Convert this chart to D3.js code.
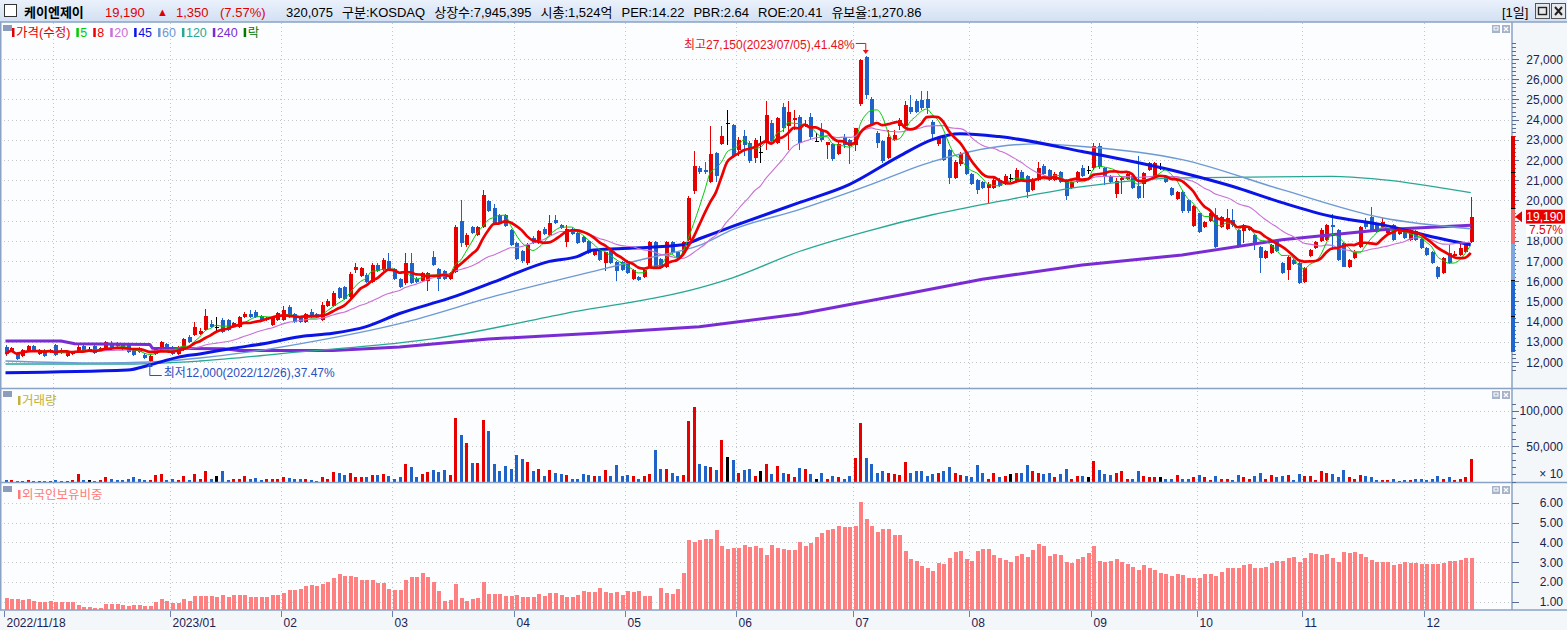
<!DOCTYPE html>
<html>
<head>
<meta charset="utf-8">
<script src="https://cdn.jsdelivr.net/npm/d3@7/dist/d3.min.js"></script>
<style>
  body { margin: 0; background: #fff; overflow: hidden; }
  svg text { font-family: "Liberation Sans", "Noto Sans CJK KR", sans-serif; font-size: 12px; }
</style>
</head>
<body>
<svg id="chart" width="1567" height="630"></svg>
<script>
// ---------- data ----------
const stockName = '케이엔제이'
const headerInfo = ['구분:KOSDAQ', '상장수:7,945,395', '시총:1,524억', 'PER:14.22', 'PBR:2.64', 'ROE:20.41', '유보율:1,270.86']
const periodLabel = '[1일]'

const tickIdx = [0, 30, 50, 70, 92, 112, 132, 153, 174, 196, 215, 234, 256]
const tickLabels = ['2022/11/18', '2023/01', '02', '03', '04', '05', '06', '07', '08', '09', '10', '11', '12']
const gridIdx = [9, 30, 50, 70, 92, 112, 132, 153, 174, 196, 215, 234, 256]
const extremeDates = ['2023/07/05', '2022/12/26']

const priceTicks = d3.range(12000, 27001, 1000)
const volTicks = [500000, 1000000]
const foreignTicks = [1, 2, 3, 4, 5, 6]
const maPeriods = [5, 8, 20, 45, 60, 120, 240]

const opens = [
  12750,12550,12450,12300,12550,12800,12400,12600,12550,12850,
  12600,12300,12400,12500,12800,12650,12800,12600,12600,12950,
  12950,12900,12850,12600,12700,12350,12050,12400,12600,12900,
  12750,12400,12600,13250,13350,13400,13600,13900,13750,14100,
  14100,13750,13750,14250,14400,14500,14300,14100,13850,14100,
  14100,14700,14400,14250,14000,14500,14400,14100,14750,14750,
  15650,15700,15200,16550,16250,16300,15950,16800,16550,17000,
  16600,16100,15900,16900,16100,16000,16000,17200,16600,16500,
  16100,16450,19000,17800,18700,18300,18700,19950,19600,19300,
  19300,18550,17900,17500,16900,18150,17900,18600,18300,19050,
  18800,17950,18600,18400,18200,18000,17300,17500,16900,17500,
  16950,16950,17000,16100,16200,16200,16700,17950,17100,16700,
  17950,17450,17400,18050,20450,21600,21500,20900,22350,22800,
  23850,23750,22500,23200,22850,22100,22400,22850,23820,22850,
  24600,23700,24000,24150,23700,24150,22950,23500,22750,22800,
  22300,23150,23000,22750,24750,27100,25000,23350,22950,22100,
  23000,23700,23700,24600,24900,24950,25000,23900,22800,23200,
  22500,21100,21800,22400,21300,21000,20900,20600,20600,21000,
  20800,21100,20900,21400,21200,20500,21000,21700,21500,21000,
  21400,21000,20600,20900,21600,21500,21600,22700,21600,21200,
  20300,21000,21050,21200,20700,20800,21500,21200,21600,21200,
  20600,20050,20400,20000,18730,19370,18700,19000,19300,18700,
  18600,19050,18550,18500,18550,18300,17700,17150,17400,18050,
  16900,16550,17050,16900,15980,17250,17650,18000,18050,18800,
  18550,17900,16720,17150,17700,18900,19200,18800,18700,18400,
  18800,18350,18450,18050,18500,18100,17650,17450,16700,16400,
  17400,17250,17300,17450,17950
]
const highs = [
  12850,12750,12500,12650,12850,12850,12650,12650,12650,12900,
  12700,12600,12550,12850,12900,12750,12850,12750,13050,13050,
  13000,12950,12900,12650,12750,12450,12350,12750,13050,12950,
  12800,12800,13200,13350,14000,13700,14600,14100,14250,14200,
  14150,14000,14300,14500,14550,14550,14350,14250,14300,14500,
  14750,14800,14450,14300,14450,14600,14450,14950,15100,15500,
  15700,15750,16450,16900,16700,16400,16900,16900,17150,17400,
  16650,16150,17400,17400,16200,16450,16450,17500,16650,16550,
  16450,18800,20000,18400,18750,18750,20500,20000,19800,19350,
  19350,18600,17950,17550,17900,18250,18550,18700,19300,19300,
  18850,18800,18650,18450,18250,18050,17550,17550,17450,17550,
  17000,17000,17050,16600,16250,16600,18000,18000,17150,18000,
  18000,17500,18000,20200,22430,21700,21900,23700,22400,23700,
  24500,23800,23150,23500,22950,23100,23200,24900,24000,24150,
  24800,24900,24500,24250,24000,24350,23350,23850,22900,22850,
  22900,23300,23050,23600,26980,27150,25100,23450,23000,23500,
  23500,24100,24900,25200,25000,25400,25400,24000,23200,23250,
  22550,22000,22400,22450,21350,21050,20950,20900,21100,21100,
  21300,21300,21600,21500,21250,21100,21900,21800,21550,21400,
  21450,21050,20950,21450,21750,21700,22850,22850,21650,21250,
  21100,21150,21350,21250,22200,21400,21900,21900,21850,21250,
  20650,20450,20450,20050,19750,19400,19000,19450,19600,19250,
  19550,19550,18600,18850,18750,18350,17750,17550,17850,18100,
  16950,17250,17100,16950,16700,17600,18000,18650,18850,19350,
  18600,17950,17100,17550,18750,19150,19650,18850,19150,18600,
  18850,18550,18500,18600,18550,18150,17700,17500,16750,17200,
  17800,17500,17900,17900,20150
]
const lows = [
  12300,12500,12100,12250,12500,12500,12350,12250,12450,12300,
  12400,12250,12350,12450,12550,12550,12400,12550,12550,12600,
  12750,12600,12450,12300,12450,12150,12000,12350,12550,12550,
  12350,12350,12550,12950,13300,13350,13550,13700,13450,13450,
  13550,13700,13700,14200,14200,14200,14050,14050,13800,14050,
  14050,14200,13950,13950,13950,14200,14200,14050,14700,14700,
  15100,15050,15100,16400,16200,15900,15900,16450,16500,16500,
  16050,15650,15800,15850,15900,15950,15500,16750,15500,16050,
  16050,16400,17700,17700,18350,18250,18650,19450,18850,18850,
  18700,17750,17050,16900,16800,17850,17850,18300,18250,18850,
  18600,17700,18300,17850,17900,17350,17250,17000,16500,16850,
  16000,16500,16350,16050,16000,16150,16650,16650,16600,16650,
  17350,17100,17350,18000,20300,21300,21300,20850,20900,22750,
  22750,22100,22200,22200,21850,21850,21850,22500,22800,22800,
  23400,22500,23500,22500,23650,23000,22900,22900,22050,21950,
  22250,22600,21800,22450,24650,25000,23700,22600,21850,22050,
  22950,23500,23650,24300,24350,24500,24300,23000,22700,21950,
  20800,21050,21700,21250,20750,20300,20550,19800,20550,20650,
  20750,20900,20850,20950,20100,20450,20950,21250,20950,20950,
  20850,20000,20550,20850,21150,21300,21500,21550,20750,20850,
  20100,20300,21000,20550,20050,20100,21450,21150,21500,20850,
  20200,20000,19400,19400,18700,18400,18650,18950,17650,18650,
  18550,18700,17650,17900,18500,17550,16400,17100,17350,17450,
  16350,16050,16800,15850,15900,17200,17600,17950,18000,17550,
  17000,16700,16650,17100,17650,18600,18500,18400,18650,18350,
  18000,18300,18100,18000,18000,17600,17250,16850,16100,16350,
  16850,17200,17250,17400,17900
]
const closes = [
  12400,12700,12150,12600,12800,12550,12600,12300,12600,12350,
  12450,12550,12500,12750,12600,12650,12450,12700,13000,12650,
  12800,12650,12500,12350,12500,12200,12300,12700,13000,12600,
  12400,12750,13150,13000,13750,13550,14300,13750,13750,13500,
  13600,13950,14250,14400,14250,14250,14100,14200,14250,14450,
  14550,14250,14000,14000,14400,14250,14250,14800,15000,15400,
  15160,15100,16350,16700,16650,15950,16800,16500,17050,16600,
  16100,15700,16900,15900,15950,16400,16400,16800,16100,16100,
  16400,18700,17900,18300,18400,18700,20280,19500,18900,18900,
  18750,17800,17100,17000,17800,17900,18500,18350,18900,18900,
  18650,18600,18350,17900,17950,17400,17500,17050,17450,16900,
  16500,16550,16400,16550,16050,16550,17950,16700,16650,17950,
  17400,17150,17950,20100,21690,21400,21400,22300,21200,23200,
  23850,22200,23000,22750,21950,23000,22400,24250,22920,24080,
  23600,24400,24080,22850,23800,23160,22950,23000,22880,22050,
  22800,22750,22700,23600,26950,25200,23800,22850,21950,23150,
  23250,24000,24700,24400,24400,24550,24550,23300,23100,22000,
  21100,21900,22300,21300,20800,20500,20600,20800,21000,20700,
  21200,21100,21500,21000,20400,21000,21600,21300,21000,21300,
  20900,20200,20900,21400,21200,21500,22700,21650,21200,20900,
  20950,21100,21300,20600,20100,21350,21850,21850,21600,20900,
  20250,20400,19460,19460,19700,18460,18950,19400,17700,19200,
  19150,18800,17700,18800,18700,17800,17150,17500,17800,17500,
  16400,17200,16850,15900,16640,17550,17950,18550,18800,18700,
  17060,16720,17060,17480,18700,18700,18550,18450,18950,18550,
  18050,18500,18150,18550,18050,17650,17300,16900,16200,17150,
  16900,17350,17650,17840,19190
]
const volumes = [
  24000,24000,10000,10000,24000,10000,10000,10000,10000,24000,
  10000,10000,24000,109000,24000,24000,10000,24000,67000,38000,
  24000,24000,38000,67000,38000,24000,24000,95000,109000,24000,
  38000,24000,81000,24000,109000,38000,152000,38000,81000,152000,
  24000,38000,38000,81000,38000,52000,24000,38000,38000,38000,
  67000,52000,38000,38000,38000,24000,10000,67000,38000,137000,
  123000,95000,123000,67000,67000,67000,95000,95000,109000,81000,
  38000,67000,251000,208000,67000,109000,137000,166000,137000,166000,
  95000,902000,661000,548000,265000,265000,874000,718000,248000,142000,
  220000,177000,368000,312000,269000,142000,170000,71000,156000,113000,
  99000,85000,42000,42000,99000,85000,71000,71000,156000,71000,
  227000,71000,85000,71000,42000,71000,99000,439000,170000,170000,
  113000,71000,85000,850000,1048000,248000,212000,198000,156000,581000,
  340000,297000,127000,156000,170000,71000,142000,241000,99000,212000,
  127000,99000,57000,184000,170000,99000,42000,113000,42000,71000,
  57000,42000,71000,326000,821000,326000,241000,127000,142000,127000,
  99000,85000,269000,127000,142000,142000,71000,99000,113000,142000,
  198000,113000,85000,71000,57000,227000,113000,42000,127000,57000,
  71000,99000,127000,113000,227000,142000,127000,99000,127000,57000,
  99000,170000,42000,71000,71000,57000,283000,156000,99000,85000,
  113000,142000,42000,42000,142000,71000,57000,57000,57000,42000,
  42000,85000,42000,42000,57000,85000,57000,28000,71000,42000,
  42000,28000,85000,57000,42000,71000,113000,42000,85000,57000,
  71000,85000,28000,99000,71000,71000,28000,142000,113000,99000,
  57000,156000,57000,42000,85000,71000,57000,28000,28000,28000,
  42000,14000,28000,28000,42000,42000,28000,42000,71000,42000,
  57000,28000,42000,57000,320075
]
// foreign ownership ratio (%)
const foreign = [
  1.20,1.14,1.14,1.09,1.14,1.04,0.98,0.98,1.04,0.98,
  0.98,0.98,0.98,0.83,0.73,0.73,0.68,0.68,0.88,0.88,
  0.88,0.83,0.78,0.83,0.83,0.78,0.78,0.98,1.14,1.04,
  0.93,0.93,1.14,1.04,1.29,1.29,1.29,1.29,1.24,1.34,
  1.24,1.34,1.34,1.34,1.24,1.24,1.24,1.24,1.34,1.34,
  1.44,1.59,1.59,1.64,1.79,1.84,1.79,1.89,1.99,2.19,
  2.39,2.29,2.29,2.24,2.09,2.09,2.09,1.94,1.94,1.64,
  1.59,1.59,2.09,2.24,2.24,2.44,2.24,1.99,1.54,1.04,
  1.09,1.89,1.19,1.04,1.14,1.19,1.99,1.39,1.39,1.39,
  1.29,1.29,1.34,1.24,1.24,1.24,1.39,1.29,1.44,1.44,
  1.34,1.24,1.24,1.34,1.54,1.49,1.49,1.69,1.49,1.44,
  1.49,1.34,1.54,1.49,1.54,1.29,1.29,0.60,1.69,1.44,
  1.39,1.64,2.45,4.11,4.01,4.11,4.16,4.16,4.62,3.81,
  3.66,3.71,3.71,3.86,3.76,3.81,3.71,3.36,3.86,3.71,
  3.66,3.61,3.61,4.01,3.81,3.96,4.26,4.47,4.62,4.67,
  4.82,4.77,4.77,4.82,6.03,5.17,4.82,4.52,4.67,4.67,
  4.37,4.37,3.56,3.16,3.06,2.81,2.71,2.55,2.96,2.91,
  3.21,3.51,3.56,3.16,3.06,3.56,3.66,3.66,3.36,3.21,
  3.11,3.01,3.31,3.41,3.26,3.61,3.91,3.81,3.31,3.41,
  3.36,3.01,2.96,3.16,3.26,3.46,3.81,3.06,3.01,3.06,
  3.16,3.01,2.91,2.76,2.61,2.86,2.71,2.61,2.45,2.40,
  2.30,2.40,2.35,2.20,2.20,2.20,2.40,2.40,2.30,2.50,
  2.71,2.71,2.71,2.86,2.91,2.71,2.71,2.76,2.96,3.06,
  3.06,3.21,3.26,3.01,3.21,3.46,3.41,3.36,3.41,3.21,
  3.01,3.51,3.46,3.51,3.41,3.26,3.11,3.01,3.01,3.01,
  2.86,2.91,3.00,2.95,2.95,2.90,2.90,2.90,2.90,2.95,
  3.05,3.05,3.10,3.20,3.20
]
// long moving averages, read as [day index, value]
const ma45Pts = [[0,11470],[22,11600],[26,11850],[31,12230],[35,12400],[41,12680],[47,12930],[53,13250],[59,13420],[65,13750],[71,14400],[80,15160],[89,16070],[98,16980],[103,17220],[106,17550],[113,17640],[122,17800],[125,18100],[131,18710],[143,19890],[152,20780],[161,22180],[167,23010],[172,23300],[179,23160],[194,22420],[212,21370],[221,20700],[230,19890],[239,19200],[248,18800],[257,18200],[264,17800]]
const ma60Pts = [[0,12050],[17,11950],[26,12000],[35,12200],[44,12500],[53,12900],[71,13900],[89,15320],[107,16560],[116,17160],[125,17770],[131,18550],[143,19540],[155,20690],[167,21920],[179,22670],[186,22800],[194,22670],[212,22020],[230,20530],[248,19140],[264,18600]]
const ma120Pts = [[0,11900],[22,11900],[35,12050],[53,12500],[71,12950],[77,13150],[101,14410],[125,15670],[131,16170],[143,17470],[155,18460],[167,19290],[179,19950],[194,20680],[212,21120],[239,21190],[248,21030],[264,20380]]
const ma240Pts = [[0,13040],[10,13040],[12.5,12900],[26,12870],[26.5,12680],[39.5,12650],[42,12570],[59,12570],[71,12740],[87,13140],[107,13440],[125,13750],[143,14380],[161,15300],[176,16100],[194,16800],[212,17300],[230,18050],[248,18550],[264,18770]]

// ---------- layout ----------
const W = 1567, H = 630
const axisX = 1512
const N = closes.length, last = N - 1
const prevClose = closes[last - 1]
const fmt = d3.format(',')
const pct = d3.format('.2f')

const x = d3.scaleLinear().domain([0, last]).range([5.5, 5.5 + 5.55 * last])
const yP = d3.scaleLinear().domain([12000, 27000]).range([362, 59])
const yV = d3.scaleLinear().domain([0, 1000000]).range([481.5, 410.7])
const yF = d3.scaleLinear().domain([1, 6]).range([601.7, 502.7])
const px = i => Math.round(x(i))

const upC = '#e60000', dnC = '#1f62c8', flatC = '#000'
const barColor = i => closes[i] > opens[i] ? upC : closes[i] < opens[i] ? dnC : flatC
const axisText = '#1b2250', lineC = '#8aa2c6', gridC = '#c3c7cc'
const maStyle = {
  5: {c: '#00cc00', w: 1}, 8: {c: '#ee0000', w: 2.7}, 20: {c: '#cc6fd6', w: 1.1},
  45: {c: '#0a14e6', w: 3}, 60: {c: '#6d99d4', w: 1.4}, 120: {c: '#29a795', w: 1.3}, 240: {c: '#7a2cd4', w: 3}
}

const svg = d3.select('#chart')
const defs = svg.append('defs')
const grad = defs.append('linearGradient').attr('id', 'hdr').attr('x1', 0).attr('y1', 0).attr('x2', 0).attr('y2', 1)
grad.append('stop').attr('offset', '0%').attr('stop-color', '#eaf1fb')
grad.append('stop').attr('offset', '100%').attr('stop-color', '#d2e0f3')

// backgrounds
svg.append('rect').attr('width', W).attr('height', H).attr('fill', '#fcfdfe')
svg.append('rect').attr('width', W).attr('height', 22).attr('fill', 'url(#hdr)')
svg.append('rect').attr('x', axisX).attr('y', 22).attr('width', W - axisX).attr('height', 588).attr('fill', '#f4f7f9')
svg.append('rect').attr('x', 0).attr('y', 610).attr('width', W).attr('height', 20).attr('fill', '#f4f7f9')

// grid
const grid = svg.append('g').attr('stroke', gridC).attr('stroke-dasharray', '1,3').attr('shape-rendering', 'crispEdges')
grid.selectAll('.gx').data(gridIdx).join('line')
    .attr('x1', i => px(i) - 1.5).attr('x2', i => px(i) - 1.5).attr('y1', 23).attr('y2', 610)
grid.selectAll('.gp').data(priceTicks).join('line').attr('class', 'gp')
    .attr('x1', 0).attr('x2', axisX).attr('y1', d => Math.round(yP(d)) + 0.5).attr('y2', d => Math.round(yP(d)) + 0.5)
grid.selectAll('.gv').data(volTicks).join('line').attr('class', 'gv')
    .attr('x1', 0).attr('x2', axisX).attr('y1', d => Math.round(yV(d)) + 0.5).attr('y2', d => Math.round(yV(d)) + 0.5)
grid.selectAll('.gf').data(foreignTicks).join('line').attr('class', 'gf')
    .attr('x1', 0).attr('x2', axisX).attr('y1', d => Math.round(yF(d)) + 0.5).attr('y2', d => Math.round(yF(d)) + 0.5)

// candles
const idx = d3.range(N)
const cg = svg.append('g').attr('shape-rendering', 'crispEdges')
cg.selectAll('.wick').data(idx).join('line').attr('class', 'wick')
    .attr('x1', i => px(i) + 0.5).attr('x2', i => px(i) + 0.5)
    .attr('y1', i => yP(highs[i])).attr('y2', i => yP(lows[i]))
    .attr('stroke', barColor)
cg.selectAll('.body').data(idx).join('rect').attr('class', 'body')
    .attr('x', i => px(i) - 1.5).attr('width', 4)
    .attr('y', i => yP(Math.max(opens[i], closes[i])))
    .attr('height', i => Math.max(1, Math.abs(yP(opens[i]) - yP(closes[i]))))
    .attr('fill', barColor)

// moving averages
function sma(arr, n) {
  return arr.map((d, i) => [i, d3.mean(arr.slice(Math.max(0, i - n + 1), i + 1))])
}
const maData = {5: sma(closes, 5), 8: sma(closes, 8), 20: sma(closes, 20), 45: ma45Pts, 60: ma60Pts, 120: ma120Pts, 240: ma240Pts}
const maLine = d3.line().x(d => x(d[0])).y(d => yP(d[1]))
const mg = svg.append('g').attr('fill', 'none').attr('stroke-linejoin', 'round')
;[240, 120, 60, 45, 20, 5, 8].forEach(p => {
  mg.append('path').datum(maData[p]).attr('d', maLine.curve(p === 240 ? d3.curveLinear : d3.curveMonotoneX))
    .attr('stroke', maStyle[p].c).attr('stroke-width', maStyle[p].w)
})

// volume bars
svg.append('g').attr('shape-rendering', 'crispEdges')
  .selectAll('rect').data(idx).join('rect')
    .attr('x', i => px(i) - 1).attr('width', 3)
    .attr('y', i => yV(volumes[i])).attr('height', i => Math.max(1, yV(0) - yV(volumes[i])))
    .attr('fill', barColor)

// foreign ownership bars
svg.append('g').attr('shape-rendering', 'crispEdges')
  .selectAll('rect').data(idx).join('rect')
    .attr('x', i => px(i) - 1).attr('width', 4)
    .attr('y', i => yF(foreign[i])).attr('height', i => Math.max(0, 610 - yF(foreign[i])))
    .attr('fill', '#ff8080')

// extremes annotations
const hi = d3.maxIndex(highs), lo = d3.minIndex(lows)
const hx = x(hi), hy = yP(highs[hi])
svg.append('text').attr('x', hx - 11).attr('y', hy - 7).attr('text-anchor', 'end').attr('fill', '#e8101a')
    .text(`최고${fmt(highs[hi])}(${extremeDates[0]}),${pct((highs[hi] - closes[last]) / closes[last] * 100)}%`)
svg.append('path').attr('d', `M${hx - 10},${hy - 12.5}H${hx}V${hy - 5}`).attr('fill', 'none').attr('stroke', '#e8101a')
svg.append('path').attr('d', `M${hx - 3},${hy - 6}L${hx + 3},${hy - 6}L${hx},${hy - 2}Z`).attr('fill', '#e8101a')

const lx = x(lo), ly = yP(lows[lo])
svg.append('path').attr('d', `M${lx},${ly + 4}V${ly + 13.5}H${lx + 12}`).attr('fill', 'none').attr('stroke', '#2a4fc0')
svg.append('path').attr('d', `M${lx - 3},${ly + 5}L${lx + 3},${ly + 5}L${lx},${ly + 1}Z`).attr('fill', '#2a4fc0')
svg.append('text').attr('x', lx + 14).attr('y', ly + 15).attr('fill', '#2a4fc0')
    .text(`최저${fmt(lows[lo])}(${extremeDates[1]}),${pct((closes[last] - lows[lo]) / closes[last] * 100)}%`)

// panel separators and frame
const frame = svg.append('g').attr('stroke', lineC).attr('stroke-width', 1.5)
;[22, 388.5, 482.5, 610].forEach(yy => frame.append('line').attr('x1', 0).attr('x2', W).attr('y1', yy).attr('y2', yy))
frame.append('line').attr('x1', axisX).attr('x2', axisX).attr('y1', 22).attr('y2', 610)
frame.append('line').attr('x1', 0.75).attr('x2', 0.75).attr('y1', 22).attr('y2', 610)

// right axes
const cy = yP(closes[last])
const ax = svg.append('g').attr('shape-rendering', 'crispEdges').attr('stroke', '#5a6c94')
d3.range(11600, 27801, 200).forEach(v => {
  const yy = Math.round(yP(v)) + 0.5
  ax.append('line').attr('x1', axisX).attr('x2', axisX + (v % 1000 === 0 ? 7 : 4)).attr('y1', yy).attr('y2', yy)
})
d3.range(0, 1100001, 100000).forEach(v => {
  const yy = Math.round(yV(v)) + 0.5
  ax.append('line').attr('x1', axisX).attr('x2', axisX + (v % 500000 === 0 && v > 0 ? 7 : 4)).attr('y1', yy).attr('y2', yy)
})
foreignTicks.forEach(v => {
  const yy = Math.round(yF(v)) + 0.5
  ax.append('line').attr('x1', axisX).attr('x2', axisX + 7).attr('y1', yy).attr('y2', yy)
})
const labels = svg.append('g').attr('fill', axisText).attr('text-anchor', 'end')
// labels hidden behind the current-price tag are not drawn
priceTicks.filter(v => yP(v) < cy - 13 || yP(v) > cy + 22)
  .forEach(v => labels.append('text').attr('x', 1563).attr('y', yP(v) + 4.5).text(fmt(v)))
volTicks.forEach(v => labels.append('text').attr('x', 1563).attr('y', yV(v) + 4.5).text(fmt(v / 10)))
labels.append('text').attr('x', 1563).attr('y', 478).text('× 10')
foreignTicks.forEach(v => labels.append('text').attr('x', 1563).attr('y', yF(v) + 4.5).text(d3.format('.2f')(v)))

// price limit band (+/-30% of previous close) on the axis
const band = svg.append('g').attr('shape-rendering', 'crispEdges')
;[[1.0, 1.1, '#f06868'], [1.1, 1.3, '#e00000'], [0.9, 1.0, '#7ea5df'], [0.7, 0.9, '#2066cf']].forEach(([a, b, c]) => {
  band.append('rect').attr('x', axisX - 1.5).attr('width', 4)
      .attr('y', yP(prevClose * b)).attr('height', yP(prevClose * a) - yP(prevClose * b)).attr('fill', c)
})
;[0.8, 0.9, 1.1, 1.2].forEach(k => band.append('rect').attr('x', axisX - 1.5).attr('width', 4)
    .attr('y', Math.round(yP(prevClose * k))).attr('height', 1).attr('fill', '#000'))

// current price tag
svg.append('path').attr('d', `M${axisX + 3},${cy}L${axisX + 10},${cy - 5.5}L${axisX + 10},${cy + 5.5}Z`).attr('fill', '#e00000')
svg.append('rect').attr('x', 1526).attr('y', cy - 7).attr('width', 39).attr('height', 14).attr('fill', '#e80000')
svg.append('text').attr('x', 1563).attr('y', cy + 4.5).attr('text-anchor', 'end').attr('fill', '#fff')
    .text(fmt(closes[last]))
svg.append('rect').attr('x', 1526).attr('y', cy + 7).attr('width', 39).attr('height', 13).attr('fill', '#fff')
svg.append('text').attr('x', 1563).attr('y', cy + 17.5).attr('text-anchor', 'end').attr('fill', '#e00000')
    .text(pct((closes[last] - prevClose) / prevClose * 100) + '%')

// x axis
const xa = svg.append('g')
tickIdx.forEach((i, k) => {
  const tx = px(i) - 1.5
  xa.append('line').attr('x1', tx).attr('x2', tx).attr('y1', 611).attr('y2', 617).attr('stroke', '#6c82ac')
  xa.append('text').attr('x', tx + 2).attr('y', 626.5).attr('fill', axisText).text(tickLabels[k])
})

// panel legends
function panelIcon(yy) {
  svg.append('rect').attr('x', 3).attr('y', yy).attr('width', 9).attr('height', 6).attr('fill', '#8b9dbb')
}
function panelButtons(yy) {
  const g = svg.append('g')
  g.append('rect').attr('x', 1492).attr('y', yy).attr('width', 8).attr('height', 8).attr('fill', '#a7b3c8')
  g.append('rect').attr('x', 1494).attr('y', yy + 2).attr('width', 4).attr('height', 3).attr('fill', 'none').attr('stroke', '#fff')
  g.append('rect').attr('x', 1502).attr('y', yy).attr('width', 8).attr('height', 8).attr('fill', '#a7b3c8')
  g.append('path').attr('d', `M${1504},${yy + 2}L${1508},${yy + 6}M${1508},${yy + 2}L${1504},${yy + 6}`).attr('stroke', '#fff').attr('stroke-width', 1.3)
}
function legendItem(xx, yy, label, color) {
  svg.append('rect').attr('x', xx).attr('y', yy - 9).attr('width', 2.5).attr('height', 9).attr('fill', color)
  const t = svg.append('text').attr('x', xx + 4).attr('y', yy).attr('fill', color).style('font-size', '12.5px').text(label)
  return xx + 4 + t.node().getComputedTextLength() + 6
}
panelIcon(25); panelButtons(25)
let lxPos = 12
lxPos = legendItem(lxPos, 37, '가격(수정)', '#e00000')
maPeriods.forEach(p => { lxPos = legendItem(lxPos, 37, String(p), maStyle[p].c) })
legendItem(lxPos, 37, '락', '#007a00')

panelIcon(391); panelButtons(391)
legendItem(18, 405, '거래량', '#c2b13a')
panelIcon(486); panelButtons(486)
legendItem(18, 499, '외국인보유비중', '#ff7b7b')

// header
const hdr = svg.append('g')
hdr.append('rect').attr('x', 4.5).attr('y', 4.5).attr('width', 12).attr('height', 12).attr('fill', '#fff').attr('stroke', '#333')
const hText = (xx, txt, color, bold) => hdr.append('text').attr('x', xx).attr('y', 16.5)
    .style('font-size', '13px').attr('font-weight', bold ? 'bold' : 'normal').attr('fill', color).text(txt)
hText(24, stockName, '#000', true)
hText(105, fmt(closes[last]), '#e00000')
hdr.append('text').attr('x', 157).attr('y', 16).style('font-size', '11px').attr('fill', '#e00000').text('▲')
hText(176, fmt(closes[last] - prevClose), '#e00000')
hText(220, `(${pct((closes[last] - prevClose) / prevClose * 100)}%)`, '#e00000')
let hPos = 286
;[fmt(volumes[last]), ...headerInfo].forEach(t => {
  const node = hText(hPos, t, '#000').node()
  hPos += node.getComputedTextLength() + 9
})
hText(1502, periodLabel, '#000')
// window buttons
hdr.append('rect').attr('x', 1535.5).attr('y', 3.5).attr('width', 14).attr('height', 15).attr('fill', '#e6e8ec').attr('stroke', '#555')
hdr.append('rect').attr('x', 1538.5).attr('y', 7.5).attr('width', 8).attr('height', 7).attr('fill', 'none').attr('stroke', '#222').attr('stroke-width', 1.4)
hdr.append('rect').attr('x', 1551.5).attr('y', 3.5).attr('width', 14).attr('height', 15).attr('fill', '#e6e8ec').attr('stroke', '#555')
hdr.append('path').attr('d', 'M1555,7L1562,15M1562,7L1555,15').attr('stroke', '#222').attr('stroke-width', 2)
</script>
</body>
</html>
